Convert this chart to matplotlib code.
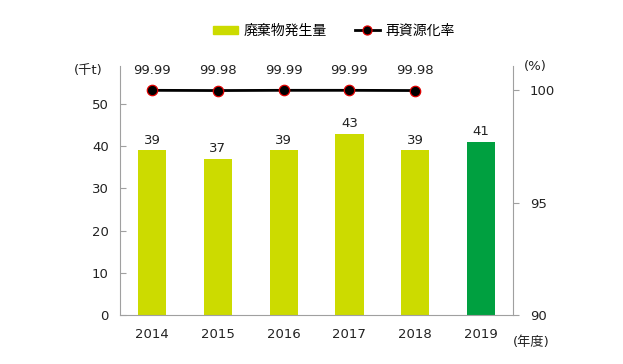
import matplotlib.pyplot as plt
from matplotlib.lines import Line2D
from matplotlib.patches import Patch

plt.rcParams['font.family'] = ['DejaVu Sans', 'Noto Sans CJK JP']

years = ['2014', '2015', '2016', '2017', '2018', '2019']
waste = [39, 37, 39, 43, 39, 41]
recycle_years = ['2014', '2015', '2016', '2017', '2018']
recycle = [99.99, 99.98, 99.99, 99.99, 99.98]
bar_colors = ['#ccdb00'] * 5 + ['#00a040']

fig = plt.figure(figsize=(6.23, 3.64), dpi=100)
ax = fig.add_axes([0.1926, 0.1346, 0.631, 0.684])
ax2 = ax.twinx()

x = list(range(len(years)))
ax.bar(x, waste, width=0.43, color=bar_colors, zorder=2)
for xi, v in zip(x, waste):
    ax.text(xi, v + 0.9, f'{v}', ha='center', va='bottom', fontsize=9.5, color='#222222')

xr = [years.index(y) for y in recycle_years]
ax2.plot(xr, recycle, color='black', lw=2, marker='o', ms=7.5,
         markerfacecolor='black', markeredgecolor='#e00000', markeredgewidth=0.9, zorder=3)
for xi, v in zip(xr, recycle):
    ax2.text(xi, 100.6, f'{v:.2f}', ha='center', va='bottom', fontsize=9.5, color='#222222')

ax.set_xlim(-0.49, 5.49)
ax.set_ylim(0, 59)
ax.set_yticks([0, 10, 20, 30, 40, 50])
ax2.set_ylim(90, 101.07)
ax2.set_yticks([90, 95, 100])
ax.set_xticks(x)
ax.set_xticklabels(years)

for a in (ax, ax2):
    a.spines['top'].set_visible(False)
    for s in ('left', 'right', 'bottom'):
        a.spines[s].set_color('#a0a0a0')
ax.spines['right'].set_visible(False)
ax2.spines['left'].set_visible(False)
ax2.spines['bottom'].set_visible(False)

ax.tick_params(axis='x', length=0, labelsize=9.5, pad=9, colors='#222222')
ax.tick_params(axis='y', direction='in', length=4, color='#a0a0a0', labelsize=9.5, pad=8, labelcolor='#222222')
ax2.tick_params(axis='y', direction='out', length=4, color='#a0a0a0', labelsize=9.5, pad=8, labelcolor='#222222')

fig.text(0.141, 0.805, '(千t)', ha='center', va='center', fontsize=9.5, color='#222222')
fig.text(0.86, 0.818, '(%)', ha='center', va='center', fontsize=9.5, color='#222222')
fig.text(0.852, 0.058, '(年度)', ha='center', va='center', fontsize=9.5, color='#222222')

handles = [Patch(color='#ccdb00'),
           Line2D([], [], color='black', lw=2, marker='o', ms=6.5,
                  markerfacecolor='black', markeredgecolor='#e00000', markeredgewidth=0.9)]
fig.legend(handles, ['廃棄物発生量', '再資源化率'], loc='center', bbox_to_anchor=(0.536, 0.915),
           ncol=2, frameon=False, fontsize=10, handlelength=1.8, handleheight=0.6,
           columnspacing=2.0, handletextpad=0.4)

fig.savefig('out.png', dpi=100)
